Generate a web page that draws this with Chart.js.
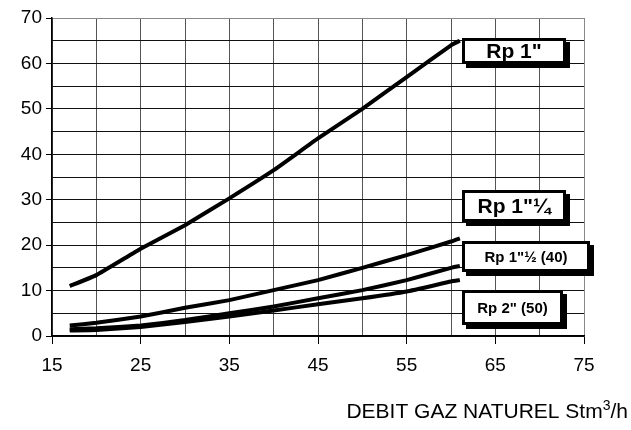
<!DOCTYPE html>
<html>
<head>
<meta charset="utf-8">
<script src="https://cdn.jsdelivr.net/npm/chart.js@4/dist/chart.umd.min.js"></script>
<style>
    html, body { margin: 0; padding: 0; background: #fff; }
    #wrap { width: 631px; height: 430px; position: relative; }
</style>
</head>
<body>
<div id="wrap"><canvas id="chartDebit"></canvas></div>
<script>
// Débit gaz naturel (Stm3/h)
const debits = [17, 20, 25, 30, 35, 40, 45, 50, 55, 60, 61];

// Valeurs lues sur chaque courbe
const rp1 = [11, 13.4, 19.2, 24.4, 30.3, 36.5, 43.5, 50, 57, 64, 65];
const rp114 = [2.3, 2.9, 4.3, 6.2, 7.9, 10.1, 12.3, 15, 17.8, 20.8, 21.5];
const rp112 = [1.5, 1.7, 2.3, 3.5, 5, 6.5, 8.3, 10.1, 12.3, 15, 15.4];
const rp2 = [1.2, 1.3, 2, 3.1, 4.3, 5.6, 7, 8.3, 9.8, 12, 12.3];

// Étiquettes des courbes et leur hauteur (valeur de l'axe Y)
const etiquettes = ['Rp 1"', 'Rp 1"\u00BC', 'Rp 1"\u00BD (40)', 'Rp 2" (50)'];
const etiquettesY = [62.8, 28.6, 17.4, 6.3];
const etiquetteX = 61.2;

const yTicks = [0, 10, 20, 30, 40, 50, 60, 70];
const xTicks = [15, 25, 35, 45, 55, 65, 75];

const police = '"Liberation Sans", Arial, sans-serif';

// style des boites : largeur, hauteur, taille de police
const stylesBoites = [
    { w: 104, h: 26, taille: 21 },
    { w: 104, h: 32, taille: 21 },
    { w: 128, h: 31, taille: 15 },
    { w: 101, h: 35, taille: 15 }
];

function serie(valeurs) {
    return {
        data: debits.map((x, i) => ({ x: x, y: valeurs[i] })),
        borderColor: '#000',
        borderWidth: 4,
        pointRadius: 0,
        tension: 0.1,
        fill: false
    };
}

const pluginEtiquettes = {
    id: 'etiquettes',
    afterDraw(chart) {
        const ctx = chart.ctx;
        const sx = chart.scales.x, sy = chart.scales.y;
        ctx.save();
        etiquettes.forEach((txt, i) => {
            const st = stylesBoites[i];
            const x = Math.round(sx.getPixelForValue(etiquetteX));
            const yc = sy.getPixelForValue(etiquettesY[i]);
            const y = Math.round(yc - st.h / 2);
            // ombre
            ctx.fillStyle = '#000';
            ctx.fillRect(x + 4, y + 4, st.w, st.h);
            // boite
            ctx.fillStyle = '#fff';
            ctx.fillRect(x, y, st.w, st.h);
            ctx.lineWidth = 3;
            ctx.strokeStyle = '#000';
            ctx.strokeRect(x + 1.5, y + 1.5, st.w - 3, st.h - 3);
            ctx.fillStyle = '#000';
            ctx.font = 'bold ' + st.taille + 'px ' + police;
            ctx.textAlign = 'center';
            ctx.textBaseline = 'middle';
            ctx.fillText(txt, x + st.w / 2, yc + 1);
        });

        // titre de l'axe X avec exposant
        const base = 418;
        const droite = chart.width - 3;
        ctx.textBaseline = 'alphabetic';
        ctx.textAlign = 'left';
        ctx.font = '21px ' + police;
        const t1 = 'DEBIT GAZ NATUREL Stm', t3 = '/h';
        const w1 = ctx.measureText(t1).width;
        const w3 = ctx.measureText(t3).width;
        ctx.font = '14px ' + police;
        const w2 = ctx.measureText('3').width;
        let x0 = droite - (w1 + w2 + w3);
        ctx.font = '21px ' + police;
        ctx.fillText(t1, x0, base);
        ctx.font = '14px ' + police;
        ctx.fillText('3', x0 + w1, base - 8);
        ctx.font = '21px ' + police;
        ctx.fillText(t3, x0 + w1 + w2, base);
        ctx.restore();
    }
};

new Chart(document.getElementById('chartDebit'), {
    type: 'line',
    data: {
        datasets: [serie(rp1), serie(rp114), serie(rp112), serie(rp2)]
    },
    options: {
        responsive: true,
        maintainAspectRatio: false,
        animation: false,
        layout: { padding: { top: 18, right: 47, left: 0, bottom: 0 } },
        plugins: {
            legend: { display: false },
            tooltip: { enabled: false }
        },
        scales: {
            x: {
                type: 'linear',
                min: 15,
                max: 75,
                afterBuildTicks(scale) {
                    const t = [];
                    for (let v = 15; v <= 75; v += 5) t.push({ value: v });
                    scale.ticks = t;
                },
                afterFit(scale) { scale.height = 94; },
                border: { color: '#000', width: 1.5 },
                grid: {
                    color: ctx => ctx.tick && ctx.tick.value === 75 ? '#888' : '#555',
                    lineWidth: 1,
                    tickLength: 8,
                    tickColor: ctx => xTicks.includes(ctx.tick.value) ? '#000' : 'rgba(0,0,0,0)'
                },
                ticks: {
                    autoSkip: false,
                    maxRotation: 0,
                    padding: 10,
                    color: '#000',
                    font: { family: police, size: 19 },
                    callback: v => xTicks.includes(v) ? String(v) : ''
                }
            },
            y: {
                min: 0,
                max: 70,
                afterBuildTicks(scale) {
                    const t = [];
                    for (let v = 0; v <= 70; v += 5) t.push({ value: v });
                    scale.ticks = t;
                },
                afterFit(scale) { scale.width = 52; },
                border: { color: '#000', width: 1.5 },
                grid: {
                    color: ctx => ctx.tick && ctx.tick.value === 70 ? '#888' : '#111',
                    lineWidth: 1,
                    tickLength: 6,
                    tickColor: ctx => yTicks.includes(ctx.tick.value) ? '#000' : 'rgba(0,0,0,0)'
                },
                ticks: {
                    autoSkip: false,
                    padding: 4,
                    color: '#000',
                    font: { family: police, size: 19 },
                    callback: v => yTicks.includes(v) ? String(v) : ''
                }
            }
        }
    },
    plugins: [pluginEtiquettes]
});
</script>
</body>
</html>
